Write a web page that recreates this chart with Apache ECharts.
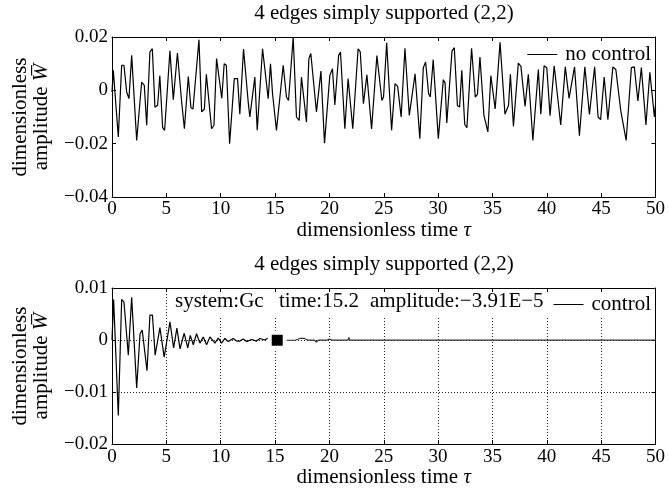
<!DOCTYPE html>
<html lang="en">
<head>
<meta charset="UTF-8">
<title>plate vibration</title>
<script src="https://cdn.jsdelivr.net/npm/echarts@6/dist/echarts.min.js"></script>
<style>html,body{margin:0;padding:0;background:#fff;}</style>
</head>
<body>
<div id="main" style="width:668px;height:489px;"></div>
<script type="text/javascript">

// top panel: no control
var tNoCtrl = [0, 0.12, 0.58, 0.89, 1.10, 1.35, 1.56, 1.81, 2.27, 2.73, 2.97, 3.19, 3.49, 3.71, 3.95, 4.20, 4.40, 4.66, 4.84, 5.33,
    5.64, 6.02, 6.40, 6.66, 6.82, 7.02, 7.26, 7.45, 8.00, 8.25, 8.50, 8.68, 9.16, 9.38, 9.62, 10.10, 10.32, 10.52, 10.82, 11.25,
    11.55, 11.76, 12.10, 12.24, 12.53, 12.68, 13.14, 13.36, 13.85, 14.37, 14.58, 14.77, 15.13, 15.29, 15.75, 16.05, 16.24, 16.67, 16.97, 17.22,
    17.43, 17.89, 18.11, 18.29, 18.81, 19.22, 19.55, 20.04, 20.28, 20.50, 20.85, 21.02, 21.42, 21.72, 22.15, 22.64, 22.84, 23.13, 23.45, 23.58,
    23.88, 24.37, 24.83, 24.98, 25.27, 25.72, 26.04, 26.28, 26.60, 26.95, 27.35, 27.88, 28.32, 28.64, 28.85, 29.13, 29.28, 29.55, 30.02, 30.48,
    30.64, 30.80, 31.28, 31.49, 31.78, 31.98, 32.18, 32.45, 32.65, 33.08, 33.42, 33.62, 33.85, 34.22, 34.58, 34.85, 35.25, 35.70, 36.15, 36.48,
    36.65, 36.93, 37.38, 37.62, 38.00, 38.30, 38.72, 39.22, 39.45, 39.75, 40.00, 40.30, 40.68, 41.28, 41.70, 42.05, 42.22, 42.55, 43.00, 43.50,
    43.92, 44.40, 44.72, 44.95, 45.28, 45.62, 46.08, 46.35, 46.80, 47.30, 47.78, 48.05, 48.38, 48.70, 49.12, 49.48, 49.90, 50.00];
var wNoCtrl = [-0.0006, 0.0075, -0.0175, 0.0094, 0.0094, -0.0006, -0.0031, 0.0131, -0.0188, 0.0031, 0.0019, -0.0131, 0.0144, 0.0156, -0.0063, -0.0056, 0.0055, -0.0140, -0.0150, 0.0148,
    -0.0035, 0.0140, -0.0040, -0.0144, -0.0150, 0.0052, -0.0065, -0.0070, 0.0190, -0.0081, -0.0070, 0.0060, -0.0144, -0.0131, 0.0119, -0.0030, 0.0100, 0.0094, -0.0200, 0.0044,
    0.0044, -0.0090, 0.0155, 0.0150, -0.0044, -0.0100, 0.0050, -0.0150, 0.0156, -0.0031, 0.0100, -0.0013, -0.0150, -0.0156, 0.0094, -0.0025, -0.0038, 0.0200, -0.0100, -0.0113,
    0.0050, -0.0119, 0.0119, 0.0138, -0.0081, 0.0072, -0.0198, 0.0056, 0.0081, -0.0055, 0.0131, 0.0144, -0.0144, 0.0044, -0.0144, 0.0156, 0.0144, -0.0050, 0.0058, 0.0060,
    -0.0145, 0.0130, -0.0038, -0.0025, 0.0178, -0.0150, 0.0025, 0.0015, -0.0100, 0.0158, -0.0094, 0.0062, -0.0181, 0.0085, 0.0106, -0.0013, -0.0025, 0.0115, -0.0181, 0.0040,
    0.0028, -0.0122, 0.0148, 0.0160, -0.0058, -0.0062, 0.0075, -0.0128, -0.0140, 0.0158, -0.0025, -0.0015, 0.0125, -0.0095, -0.0156, 0.0055, -0.0070, 0.0180, -0.0090, -0.0056,
    0.0060, -0.0135, 0.0102, 0.0090, -0.0060, 0.0060, -0.0188, 0.0078, -0.0090, 0.0092, 0.0085, -0.0095, 0.0092, -0.0130, 0.0088, -0.0030, -0.0035, 0.0088, -0.0170, 0.0088,
    -0.0090, 0.0088, -0.0100, -0.0110, 0.0050, -0.0110, 0.0088, 0.0078, -0.0075, -0.0188, 0.0085, 0.0088, -0.0040, 0.0085, -0.0130, 0.0068, -0.0100, -0.0055];

// bottom panel: control switched on, up to the marked instant
var tCtrl = [0, 0.15, 0.58, 0.89, 1.10, 1.50, 1.81, 2.27, 2.58, 2.78, 3.22, 3.49, 3.72, 3.97, 4.41, 4.80, 5.33, 5.67, 5.97, 6.26,
    6.64, 6.97, 7.20, 7.48, 7.78, 8.09, 8.39, 8.70, 9.01, 9.47, 9.77, 10.08, 10.39, 10.69, 11.15, 11.46, 11.76, 12.07, 12.38, 12.84,
    13.30, 13.60, 14.06, 14.37, 14.55];
var wCtrl = [0, 0.0078, -0.0145, 0.0078, 0.0073, -0.0029, 0.0082, -0.0092, 0.0012, 0.0019, -0.0059, 0.0048, 0.0048, -0.0029, 0.0024, -0.0033, 0.0035, -0.0015, 0.0023, -0.0017,
    0.0013, -0.0015, 0.0009, -0.0009, 0.0012, -0.0006, 0.0006, -0.0009, 0.0006, -0.0006, 0.0004, -0.0006, 0.0003, -0.0003, 0.0003, -0.0002, -0.0002, 0.0002, -0.0003, 0.0001,
    -0.0002, 0.0003, 0, 0.0004, 0];
// and after it
var tAfter = [15.2, 16.9, 17.3, 17.7, 18.0, 18.6, 18.8, 19.0, 19.8, 20.0, 20.2, 21.7, 21.8, 21.85, 50];
var wAfter = [-0.0000391, 0, 0.0003, 0.0003, 0, 0, -0.0004, 0, 0, 0.0002, 0, 0, 0.0005, 0, 0];

var markT = 15.2;
var markW = -3.91e-5;
var infoTexts = ['system:Gc', 'time:15.2', 'amplitude:\u22123.91E\u22125'];
var titleText = '4 edges simply supported (2,2)';

function pairs(t, w) {
    return t.map(function (v, i) { return [v, w[i]]; });
}
function yFmt(v) {
    if (Math.abs(v) < 1e-9) return '0';
    return (v < 0 ? '\u2212' : '') + Math.abs(v).toFixed(2);
}

var FONT = 'Liberation Serif';
var black = '#000';
var lineSt = { onZero: false, lineStyle: { color: black, width: 1 } };

function xAx(grid, pos, withLabel, split) {
    return {
        gridIndex: grid, type: 'value', position: pos, min: 0, max: 50, interval: 5,
        axisLine: lineSt, axisTick: { inside: true, length: 4, lineStyle: { color: black } },
        axisLabel: { show: withLabel, margin: 3, color: black, fontFamily: FONT, fontSize: 19 },
        splitLine: { show: split, lineStyle: { color: '#222', type: [1, 2], width: 1 } },
        name: withLabel ? 'dimensionless time {i|\u03c4}' : '',
        nameLocation: 'middle', nameGap: grid === 0 ? 21 : 19,
        nameTextStyle: { color: black, fontFamily: FONT, fontSize: 21,
            rich: { i: { fontStyle: 'italic', fontFamily: FONT, fontSize: 21, color: black } } }
    };
}
function yAx(grid, pos, withLabel, min, max, step, split) {
    return {
        gridIndex: grid, type: 'value', position: pos, min: min, max: max, interval: step,
        axisLine: lineSt, axisTick: { inside: true, length: 4, lineStyle: { color: black } },
        axisLabel: { show: withLabel, margin: 4, color: black, fontFamily: FONT, fontSize: 19, formatter: yFmt },
        splitLine: { show: split, lineStyle: { color: '#222', type: [1, 2], width: 1 } },
        name: withLabel ? 'dimensionless\namplitude {w|W\u0305}' : '',
        nameLocation: 'middle', nameRotate: 90, nameGap: 60,
        nameTextStyle: { color: black, fontFamily: FONT, fontSize: 21, lineHeight: 21,
            rich: { w: { fontStyle: 'italic', fontFamily: FONT, fontSize: 21, lineHeight: 21, color: black } } }
    };
}

var myChart = echarts.init(document.getElementById('main'));

var textFont = '21px "Liberation Serif"';
var option = {
    animation: false,
    backgroundColor: '#fff',
    grid: [
        { left: 112, top: 37, width: 544, height: 160 },
        { left: 112, top: 288, width: 544, height: 160 }
    ],
    xAxis: [
        xAx(0, 'bottom', true, false),
        xAx(0, 'top', false, false),
        xAx(1, 'bottom', true, true),
        xAx(1, 'top', false, false)
    ],
    yAxis: [
        yAx(0, 'left', true, -0.04, 0.02, 0.02, false),
        yAx(0, 'right', false, -0.04, 0.02, 0.02, false),
        yAx(1, 'left', true, -0.02, 0.01, 0.01, true),
        yAx(1, 'right', false, -0.02, 0.01, 0.01, false)
    ],
    legend: [
        { data: ['no control'], right: 12, top: 39, icon: 'rect', itemWidth: 30, itemHeight: 1, z: 6,
          textStyle: { color: black, fontFamily: FONT, fontSize: 21, padding: [0, 0, 0, 3] } },
        { data: ['control'], right: 12, top: 289, icon: 'rect', itemWidth: 30, itemHeight: 1, z: 6,
          textStyle: { color: black, fontFamily: FONT, fontSize: 21, padding: [0, 0, 0, 3] } }
    ],
    graphic: [
        { type: 'text', x: 384, y: 3, style: { text: titleText, textAlign: 'center', fill: black, font: textFont } },
        { type: 'text', x: 384, y: 254, style: { text: titleText, textAlign: 'center', fill: black, font: textFont } },
        { type: 'rect', shape: { x: 172, y: 292, width: 482, height: 24 }, style: { fill: '#fff' }, z: 3 },
        { type: 'text', x: 175, y: 291, z: 4, style: { text: infoTexts[0], fill: black, font: textFont } },
        { type: 'text', x: 279, y: 291, z: 4, style: { text: infoTexts[1], fill: black, font: textFont } },
        { type: 'text', x: 370, y: 291, z: 4, style: { text: infoTexts[2], fill: black, font: textFont } }
    ],
    series: [
        { name: 'no control', type: 'line', xAxisIndex: 0, yAxisIndex: 0, data: pairs(tNoCtrl, wNoCtrl),
          symbol: 'none', lineStyle: { color: black, width: 1.2 }, itemStyle: { color: black } },
        { name: 'control', type: 'line', xAxisIndex: 2, yAxisIndex: 2, data: pairs(tCtrl, wCtrl),
          symbol: 'none', lineStyle: { color: black, width: 1.2 }, itemStyle: { color: black } },
        { name: 'control after', type: 'line', xAxisIndex: 2, yAxisIndex: 2, data: pairs(tAfter, wAfter),
          symbol: 'none', lineStyle: { color: '#333', width: 1.2 }, itemStyle: { color: '#333' } },
        { name: 'mark', type: 'scatter', xAxisIndex: 2, yAxisIndex: 2, data: [[markT, markW]],
          symbol: 'rect', symbolSize: 15, z: 5,
          itemStyle: { color: black, opacity: 1, borderColor: '#fff', borderWidth: 4 } }
    ]
};

myChart.setOption(option);
</script>
</body>
</html>
